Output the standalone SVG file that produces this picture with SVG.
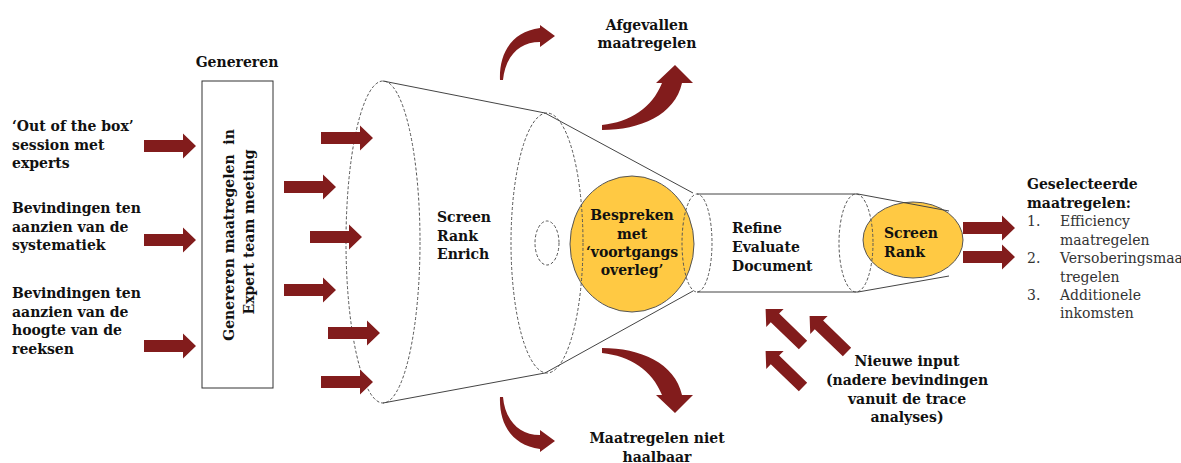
<svg xmlns="http://www.w3.org/2000/svg" width="1181" height="463" viewBox="0 0 1181 463">
<style>
.b{font-family:"DejaVu Serif","Liberation Serif",serif;font-weight:bold;font-size:14px;fill:#111}
.r{font-family:"DejaVu Serif","Liberation Serif",serif;font-size:14px;fill:#333}
.m{text-anchor:middle}
.d{fill:none;stroke:#555;stroke-width:1;stroke-dasharray:3,2}
.s{fill:none;stroke:#444;stroke-width:1}
.y{fill:#FFC943;stroke:#555;stroke-width:1}
.a{fill:#821C1C}
</style>
<defs>
<path id="arr" d="M0,-6 H39 V-12.5 L52,0 L39,12.5 V6 H0 Z"/>
</defs>
<rect width="1181" height="463" fill="#fff"/>

<g id="funnel">
<ellipse class="y" cx="632" cy="244" rx="62" ry="68"/>
<ellipse class="y" cx="913" cy="240" rx="50" ry="38"/>
<ellipse class="d" cx="383" cy="242" rx="37" ry="161"/>
<ellipse class="d" cx="547" cy="243" rx="36" ry="130"/>
<ellipse class="d" cx="547" cy="243" rx="12" ry="22"/>
<ellipse class="d" cx="697" cy="243" rx="15" ry="49"/>
<ellipse class="d" cx="856" cy="243" rx="17" ry="49"/>
<path class="s" d="M383,81 L545,113 L693,193 M383,403 L545,373 L693,291 M697,194 H858 L949,211 M697,292 H858 L949,276"/>
</g>

<g id="box">
<rect x="202" y="81" width="71" height="307" fill="#fff" stroke="#333" stroke-width="1"/>
<g transform="translate(233.5,235) rotate(-90)">
<text class="b m" x="0" y="0" style="white-space:pre">Genereren maatregelen  in</text>
<text class="b m" x="3" y="20">Expert team meeting</text>
</g>
</g>

<g id="labels">
<text class="b m" x="237" y="67">Genereren</text>
<text class="b"><tspan x="12" y="131">‘Out of the box’</tspan><tspan x="12" y="149.5">session met</tspan><tspan x="12" y="168">experts</tspan></text>
<text class="b"><tspan x="12" y="213">Bevindingen ten</tspan><tspan x="12" y="232">aanzien van de</tspan><tspan x="12" y="250">systematiek</tspan></text>
<text class="b"><tspan x="12" y="298">Bevindingen ten</tspan><tspan x="12" y="317">aanzien van de</tspan><tspan x="12" y="335">hoogte van de</tspan><tspan x="12" y="354">reeksen</tspan></text>
<text class="b"><tspan x="437" y="222">Screen</tspan><tspan x="437" y="241">Rank</tspan><tspan x="437" y="259">Enrich</tspan></text>
<text class="b m"><tspan x="632" y="220">Bespreken</tspan><tspan x="632" y="239">met</tspan><tspan x="632" y="257">‘voortgangs</tspan><tspan x="632" y="275">overleg’</tspan></text>
<text class="b"><tspan x="732" y="233">Refine</tspan><tspan x="732" y="252">Evaluate</tspan><tspan x="732" y="271">Document</tspan></text>
<text class="b"><tspan x="884" y="238">Screen</tspan><tspan x="884" y="257">Rank</tspan></text>
<text class="b m"><tspan x="647" y="30">Afgevallen</tspan><tspan x="647" y="48">maatregelen</tspan></text>
<text class="b m"><tspan x="657" y="443">Maatregelen niet</tspan><tspan x="657" y="462">haalbaar</tspan></text>
<text class="b m"><tspan x="907" y="366">Nieuwe input</tspan><tspan x="907" y="385">(nadere bevindingen</tspan><tspan x="907" y="404">vanuit de trace</tspan><tspan x="907" y="422">analyses)</tspan></text>
<text class="b"><tspan x="1027" y="189">Geselecteerde</tspan><tspan x="1027" y="208">maatregelen:</tspan></text>
<text class="r"><tspan x="1027" y="226">1.</tspan><tspan x="1060" y="226">Efficiency</tspan><tspan x="1060" y="245">maatregelen</tspan><tspan x="1027" y="263">2.</tspan><tspan x="1060" y="263">Versoberingsmaa</tspan><tspan x="1060" y="282">tregelen</tspan><tspan x="1027" y="300">3.</tspan><tspan x="1060" y="300">Additionele</tspan><tspan x="1060" y="318">inkomsten</tspan></text>
</g>

<g id="connectors" class="a">
<use href="#arr" x="144" y="146"/>
<use href="#arr" x="144" y="240"/>
<use href="#arr" x="144" y="346"/>
<use href="#arr" x="321" y="138"/>
<use href="#arr" x="284" y="187"/>
<use href="#arr" x="310" y="237"/>
<use href="#arr" x="284" y="290"/>
<use href="#arr" x="328" y="333"/>
<use href="#arr" x="321" y="382"/>
<use href="#arr" x="963" y="228"/>
<use href="#arr" x="963" y="257"/>
<use href="#arr" transform="translate(803,345) rotate(-136)"/>
<use href="#arr" transform="translate(847,352) rotate(-136)"/>
<use href="#arr" transform="translate(803,387) rotate(-136)"/>
<path d="M500,80 C499,55 510,32 540,28 L540,25 L555,36 L540,47 L540,42 C518,42 505,58 503,80 Z"/>
<path d="M500,397 C499,422 510,445 540,449 L540,452 L555,441 L540,430 L540,435 C518,435 505,419 503,397 Z"/>
<path d="M602,130 C640,130 675,115 682,83 L693,83 L675,65 L656,83 L662,83 C652,108 630,122 602,125 Z"/>
<path d="M602,348 C640,348 675,363 682,395 L693,395 L675,413 L656,395 L662,395 C652,370 630,356 602,353 Z"/>
</g>
</svg>
